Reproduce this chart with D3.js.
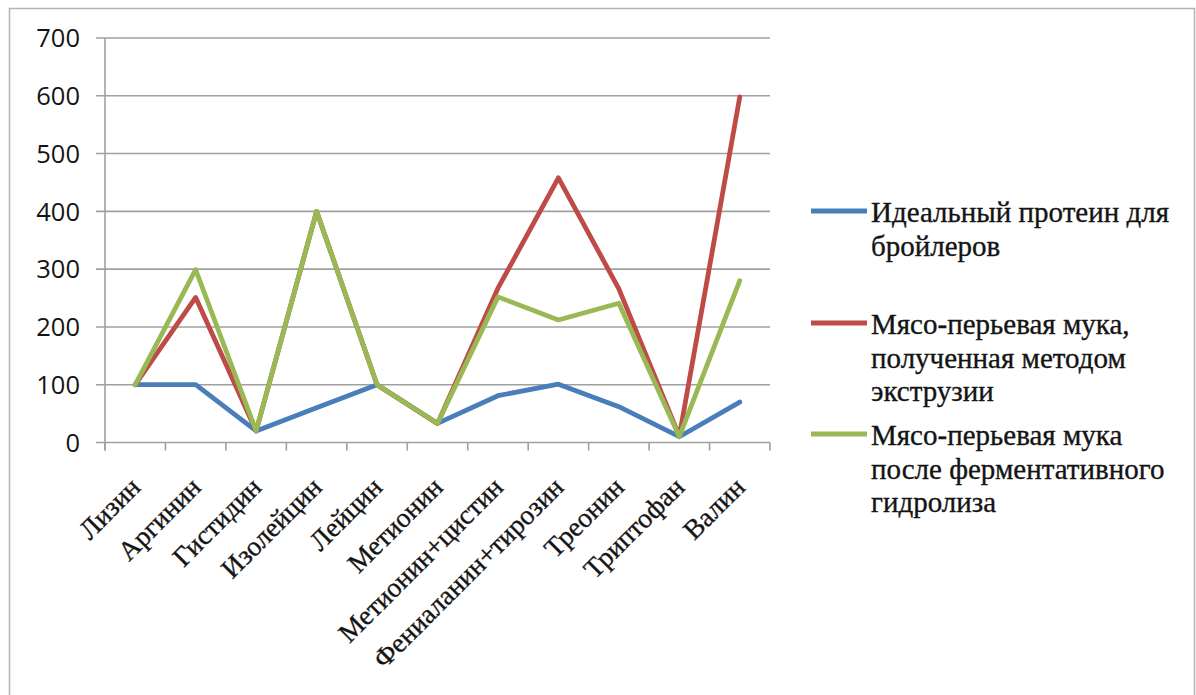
<!DOCTYPE html>
<html>
<head>
<meta charset="utf-8">
<script src="https://cdn.jsdelivr.net/npm/d3@7"></script>
<style>
  html, body { margin: 0; padding: 0; background: #fff; }
  svg { display: block; }
  .serif { font-family: "Liberation Serif", "Times New Roman", serif; }
</style>
</head>
<body>
<svg id="chart" width="1196" height="695"></svg>
<script>
// Amino acid profile: ideal protein for broilers vs. two kinds of meat-feather meal
const categories = ["Лизин", "Аргинин", "Гистидин", "Изолейцин", "Лейцин", "Метионин",
  "Метионин+цистин", "Фениаланин+тирозин", "Треонин", "Триптофан", "Валин"];
const idealProtein   = [100, 100, 20, 60, 100, 33, 81, 101, 62, 10, 70];
const extrusionMeal  = [100, 251, 20, 400, 100, 33, 267, 458, 266, 11, 598];
const hydrolysisMeal = [100, 299, 20, 400, 100, 33, 252, 212, 241, 10, 280];
const yTicks = [0, 100, 200, 300, 400, 500, 600, 700];
const seriesNames = [
  ["Идеальный протеин для", "бройлеров"],
  ["Мясо-перьевая мука,", "полученная методом", "экструзии"],
  ["Мясо-перьевая мука", "после ферментативного", "гидролиза"]
];
const seriesColors = ["#4A7EBB", "#BE4B48", "#98B954"];

const svg = d3.select("#chart");
const plot = { left: 105, right: 770, top: 38, bottom: 442.5 };
const gridColor = "#a0a0a0";
const textColor = "#141414";

// chart frame
svg.append("path")
  .attr("d", "M9.5,695 V8.5 H1194.5 V695")
  .attr("fill", "none")
  .attr("stroke", "#b4b4b4")
  .attr("stroke-width", 1.5);

const x = d3.scaleBand().domain(categories).range([plot.left, plot.right]).padding(0);
const y = d3.scaleLinear().domain([0, 700]).range([plot.bottom, plot.top]);

// horizontal gridlines with left tick stubs
svg.append("g").selectAll("line").data(yTicks).join("line")
  .attr("x1", plot.left - 9).attr("x2", plot.right)
  .attr("y1", d => y(d)).attr("y2", d => y(d))
  .attr("stroke", gridColor).attr("stroke-width", 1.6);

// vertical axis line
svg.append("line")
  .attr("x1", plot.left).attr("x2", plot.left)
  .attr("y1", y(700)).attr("y2", plot.bottom + 8)
  .attr("stroke", gridColor).attr("stroke-width", 1.6);

// category boundary ticks
const bounds = categories.map(c => x(c)).concat([plot.right]);
svg.append("g").selectAll("line").data(bounds).join("line")
  .attr("x1", d => d).attr("x2", d => d)
  .attr("y1", plot.bottom).attr("y2", plot.bottom + 8)
  .attr("stroke", gridColor).attr("stroke-width", 1.6);

// y tick labels
svg.append("g").selectAll("text").data(yTicks).join("text")
  .attr("x", 80).attr("y", d => y(d))
  .attr("dy", "0.36em")
  .attr("text-anchor", "end")
  .style("font-family", "'Open Sans', sans-serif")
  .attr("font-size", 25.5)
  .attr("fill", textColor)
  .text(d => d);

// rotated category labels
svg.append("g").selectAll("text").data(categories).join("text")
  .attr("class", "serif")
  .attr("transform", d => `translate(${x(d) + x.bandwidth() / 2},482) rotate(-45)`)
  .attr("dy", "0.35em")
  .attr("text-anchor", "end")
  .attr("font-size", 27.5)
  .attr("fill", textColor)
  .attr("stroke", textColor)
  .attr("stroke-width", 0.35)
  .text(d => d);

// series lines
const line = d3.line()
  .x((d, i) => x(categories[i]) + x.bandwidth() / 2)
  .y(d => y(d));
[idealProtein, extrusionMeal, hydrolysisMeal].forEach((vals, k) => {
  svg.append("path")
    .datum(vals)
    .attr("d", line)
    .attr("fill", "none")
    .attr("stroke", seriesColors[k])
    .attr("stroke-width", 4.8)
    .attr("stroke-linejoin", "round")
    .attr("stroke-linecap", "round");
});

// legend
const legendTops = [211, 323, 434];
const legend = svg.append("g");
seriesNames.forEach((lines, k) => {
  const g = legend.append("g");
  g.append("line")
    .attr("x1", 811).attr("x2", 867)
    .attr("y1", legendTops[k]).attr("y2", legendTops[k])
    .attr("stroke", seriesColors[k]).attr("stroke-width", 4.8);
  const t = g.append("text")
    .attr("class", "serif")
    .attr("font-size", 29)
    .attr("fill", textColor)
    .attr("stroke", textColor)
    .attr("stroke-width", 0.35);
  lines.forEach((s, j) => {
    t.append("tspan")
      .attr("x", 871)
      .attr("y", legendTops[k] + 11 + j * 33.5)
      .text(s);
  });
});
</script>
</body>
</html>
